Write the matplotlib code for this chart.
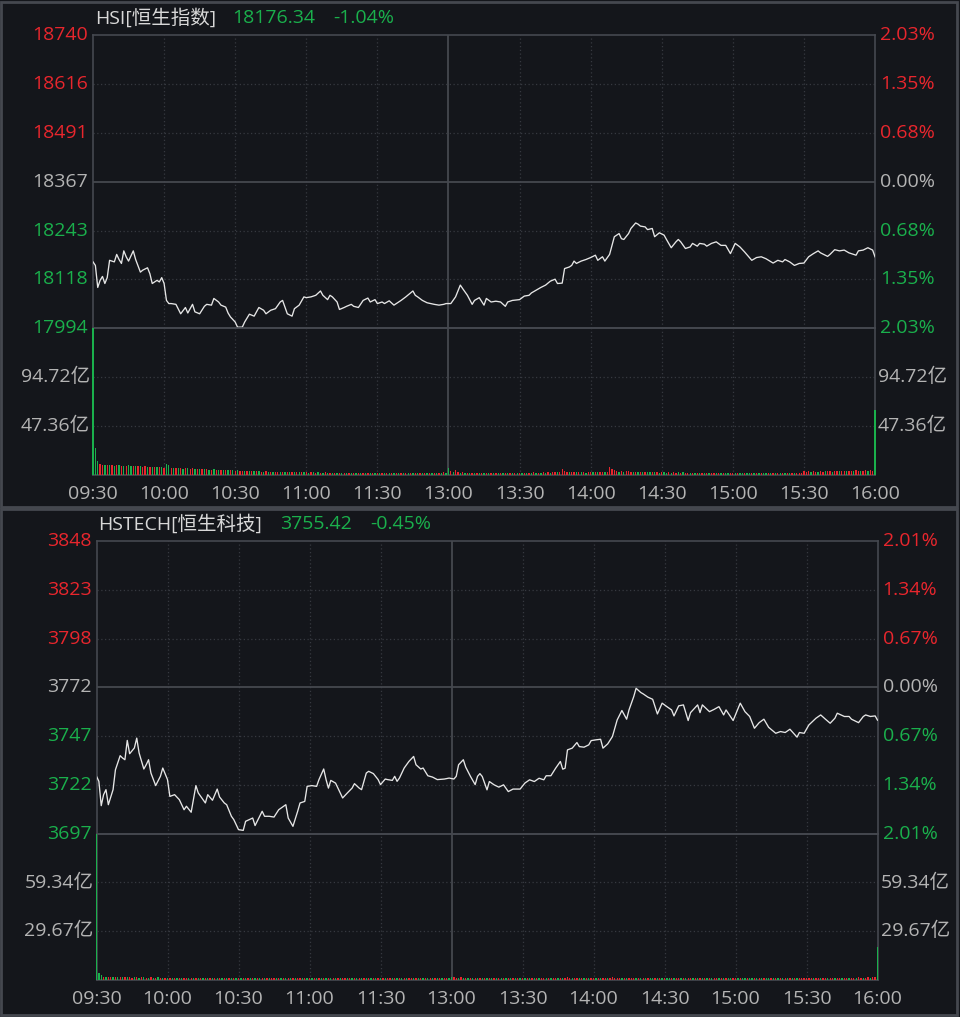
import matplotlib
matplotlib.use("Agg")
import matplotlib.pyplot as plt
import matplotlib.transforms as mtransforms
from matplotlib.patches import Rectangle
import numpy as np

plt.rcParams['font.family'] = ['Open Sans', 'Noto Sans CJK SC', 'DejaVu Sans']

BG = '#14161b'
RED = '#e8262d'
GREEN = '#1ab04c'
GRAY = '#b4b4b4'
TITLE = '#d8d8d8'
GRID = '#363940'
FRAME = '#45484f'
LINE = '#e6e6e6'
W, H = 960, 1017
FS = 14

time_labels = ['09:30', '10:00', '10:30', '11:00', '11:30', '13:00',
               '13:30', '14:00', '14:30', '15:00', '15:30', '16:00']

# ---- HSI (minutes since open, lunch removed) ----
hsi_minutes = [0, 1, 2, 3, 4, 5, 6, 7, 9, 10, 11, 12, 13, 14, 15, 17, 18, 20, 21, 23, 24, 25, 27, 28, 29, 30,
               31, 32, 33, 35, 37, 39, 40, 42, 43, 45, 47, 48, 50, 51, 53, 54, 56, 57, 58, 60, 61, 63, 64, 66,
               68, 70, 72, 73, 75, 77, 79, 80, 81, 82, 84, 85, 87, 89, 90, 92, 94, 96, 97, 99, 100, 101, 103,
               104, 106, 107, 109, 110, 112, 114, 116, 117, 119, 120, 122, 123, 125, 127, 128, 130, 132, 134,
               135, 136, 137, 139, 141, 144, 146, 148, 149, 151, 153, 155, 156, 158, 160, 161, 163, 165, 166,
               168, 170, 172, 174, 175, 177, 180, 182, 184, 185, 187, 189, 191, 193, 195, 196, 198, 199, 201,
               202, 203, 204, 206, 208, 210, 212, 213, 215, 216, 218, 219, 220, 222, 223, 224, 226, 227, 229,
               230, 231, 233, 234, 236, 237, 239, 241, 242, 244, 246, 247, 248, 250, 252, 253, 255, 256, 258,
               259, 261, 263, 265, 267, 269, 271, 273, 275, 278, 280, 282, 284, 287, 289, 291, 292, 294, 296,
               298, 300, 302, 304, 306, 307, 310, 311, 313, 315, 317, 319, 322, 323, 325, 327, 329, 330]
hsi_prices = [18163, 18154, 18098, 18116, 18126, 18108, 18123, 18167, 18163, 18182, 18169, 18159, 18191,
              18176, 18165, 18191, 18169, 18137, 18142, 18148, 18133, 18108, 18116, 18112, 18123, 18108,
              18065, 18057, 18057, 18055, 18031, 18047, 18033, 18055, 18036, 18031, 18050, 18055, 18053,
              18070, 18061, 18053, 18048, 18033, 18023, 18010, 17997, 17997, 18010, 18030, 18025, 18047,
              18040, 18031, 18040, 18044, 18061, 18065, 18048, 18031, 18025, 18044, 18053, 18074, 18072,
              18074, 18078, 18089, 18078, 18067, 18078, 18074, 18061, 18042, 18047, 18050, 18055, 18050,
              18047, 18065, 18071, 18061, 18067, 18057, 18061, 18057, 18064, 18053, 18057, 18065, 18074,
              18084, 18089, 18078, 18074, 18065, 18059, 18055, 18053, 18055, 18057, 18057, 18074, 18104,
              18095, 18078, 18055, 18065, 18072, 18053, 18070, 18061, 18063, 18061, 18050, 18061, 18065,
              18067, 18076, 18078, 18084, 18091, 18098, 18104, 18114, 18119, 18108, 18109, 18146, 18150,
              18154, 18165, 18159, 18165, 18169, 18174, 18180, 18167, 18176, 18165, 18182, 18205, 18227,
              18235, 18222, 18220, 18235, 18248, 18262, 18259, 18254, 18252, 18245, 18248, 18227, 18237,
              18231, 18220, 18199, 18214, 18220, 18214, 18197, 18201, 18210, 18203, 18210, 18208, 18203,
              18210, 18214, 18205, 18205, 18184, 18210, 18201, 18188, 18167, 18174, 18176, 18171, 18160,
              18167, 18163, 18169, 18163, 18154, 18159, 18160, 18176, 18184, 18191, 18186, 18177, 18182,
              18194, 18191, 18193, 18186, 18180, 18191, 18193, 18199, 18193, 18176]
# turnover per minute in 亿, negative = down minute (green)
hsi_volume = [
    -142.1, -26.0, -14.0, 10.2, 9.8, -9.6, 10.1, -9.4, 9.9, -9.2,
    9.5, -9.8, 8.9, -9.1, 8.7, -9.3, -8.8, 9.0, -8.6, 8.4,
    -8.5, 8.1, 8.3, -7.9, 8.2, -7.8, 7.6, -8.0, 7.4, -7.7,
    7.2, -10.6, -9.8, 6.9, -7.1, 6.6, -6.8, 6.5, -6.2, 6.7,
    -6.4, 5.9, 6.3, -6.0, 5.8, -5.6, 6.1, -5.4, 5.7, -5.3,
    5.2, -5.5, 4.9, -5.0, 5.3, -4.8, 4.6, -4.9, 4.4, -4.7,
    4.2, -4.5, 3.9, 4.1, -3.8, 4.3, -3.6, 3.7, -3.5, 3.4,
    -3.6, 3.3, -3.2, 3.5, -3.1, 3.0, -3.3, 2.9, 3.2, -2.8,
    3.1, -3.0, 2.7, -2.9, 3.0, -2.6, 2.8, -2.7, 2.5, -2.9,
    2.6, -2.4, 2.7, -2.5, 2.3, -2.6, 2.4, -2.2, 2.5, -2.3,
    2.1, -2.4, 2.3, -2.0, 2.2, -2.3, 2.0, -2.1, 2.4, -1.9,
    2.2, -2.0, 1.9, -2.3, 2.1, -1.8, 2.0, -2.2, 1.9, -2.1,
    2.0, -1.8, 2.2, -1.9, 1.8, -2.0, 2.1, -1.7, 1.9, -2.0,
    1.8, -2.1, 1.7, -1.9, 2.0, -1.8, 1.7, -2.0, 1.9, -1.6,
    1.8, -1.9, 1.7, -1.8, 2.0, -1.6, 1.9, -1.7, 2.6, -2.2,
    -6.8, 3.4, -2.8, 4.9, 3.1, -2.4, 2.6, -2.2, 2.3, -2.0,
    2.2, -2.1, 1.9, -2.3, 2.0, -1.8, 2.1, -1.9, 2.2, -2.0,
    1.9, -2.0, 2.1, -1.8, 2.0, -1.9, 2.2, -2.1, 1.9, -2.0,
    2.3, -2.1, 2.4, -2.0, 2.2, -2.3, 2.5, -2.1, 2.4, -2.2,
    2.6, -2.3, 2.5, -2.4, 2.7, 3.0, -2.5, 2.8, 5.8, 3.6,
    2.9, -2.6, 2.8, 3.1, -2.7, 2.6, -2.5, 2.9, -2.4, 2.7,
    2.6, -2.5, 2.8, -2.6, 3.0, 2.7, -2.8, 3.2, 7.9, 5.4,
    4.6, 3.8, -3.2, 3.6, -3.0, 3.4, 3.9, 3.3, -3.1, 2.9,
    -2.8, 2.7, -2.9, 2.6, -2.8, -2.5, 2.7, -3.0, 2.6, -2.4,
    2.5, -2.7, -2.4, 2.6, -2.3, 2.5, 2.4, -2.6, 2.3, -2.5,
    2.2, 2.4, -2.3, 2.1, -2.2, 2.3, -2.1, 2.2, -2.0, 2.1,
    -2.2, 2.0, 2.1, -1.9, 2.0, -2.1, 1.9, -2.0, -2.2, 2.1,
    2.0, -1.9, 2.1, -2.0, -1.8, 1.9, -2.1, -1.9, 2.0, -1.8,
    1.9, -2.0, 2.1, -1.9, -2.0, 1.8, -2.1, 1.9, -1.8, 2.0,
    -1.9, 2.1, -2.0, 1.9, -2.1, 2.0, -1.9, 2.2, 2.0, 2.4,
    3.5, 3.1, 3.6, -3.0, 3.4, 3.2, -3.3, 3.7, 3.0, -3.4,
    3.6, 3.8, -3.2, 3.5, 3.9, -3.6, 3.4, 3.8, -3.5, 3.7,
    4.1, -3.6, 4.4, 3.9, -3.8, 4.2, 4.5, -4.0, 4.6, 4.3,
    -63.0]
hsi_range = (17994, 18740)
hsi_price_labels = ['18740', '18616', '18491', '18367', '18243', '18118', '17994']
hsi_pct_labels = ['2.03%', '1.35%', '0.68%', '0.00%', '0.68%', '1.35%', '2.03%']
hsi_vol_max = 142.08
hsi_vol_labels = ['94.72亿', '47.36亿']

# ---- HSTECH ----
tech_minutes = [0, 1, 2, 3, 4, 5, 7, 8, 10, 11, 12, 13, 14, 16, 17, 18, 20, 21, 22, 23, 25, 27, 28, 30, 31,
                33, 35, 37, 38, 40, 42, 43, 46, 47, 49, 51, 52, 54, 55, 57, 58, 60, 62, 63, 66, 67, 70, 71,
                73, 75, 77, 80, 81, 83, 85, 86, 88, 89, 91, 93, 94, 96, 97, 98, 99, 101, 104, 106, 108, 109,
                111, 112, 114, 115, 117, 119, 120, 122, 123, 125, 126, 127, 128, 130, 132, 134, 135, 137,
                138, 140, 142, 144, 147, 149, 151, 152, 153, 155, 156, 158, 160, 161, 162, 163, 165, 166,
                168, 170, 172, 174, 176, 179, 181, 183, 185, 187, 189, 190, 192, 194, 196, 197, 198, 199,
                201, 203, 204, 206, 208, 209, 211, 213, 214, 216, 218, 220, 222, 224, 225, 227, 228, 230,
                231, 233, 235, 237, 239, 241, 243, 244, 246, 248, 250, 251, 254, 255, 256, 259, 261, 263,
                265, 266, 269, 272, 274, 276, 278, 280, 282, 284, 287, 289, 291, 293, 296, 297, 299, 301,
                304, 306, 308, 310, 312, 313, 316, 318, 319, 322, 324, 325, 327, 329, 330]
tech_prices = [3726.3, 3723.7, 3711.1, 3716.8, 3719.4, 3711.6, 3719.4, 3729.7, 3737.0, 3735.8, 3734.9,
               3744.9, 3738.0, 3741.0, 3746.1, 3738.4, 3730.1, 3732.3, 3734.9, 3728.0, 3721.5, 3726.3,
               3730.6, 3724.6, 3715.9, 3716.8, 3714.2, 3709.0, 3710.8, 3707.7, 3721.5, 3717.7, 3712.5,
               3716.8, 3713.9, 3719.7, 3715.6, 3712.5, 3711.6, 3705.6, 3703.9, 3698.7, 3698.3, 3703.0,
               3704.7, 3700.8, 3708.2, 3705.6, 3705.6, 3705.2, 3709.0, 3711.6, 3704.7, 3700.4, 3708.2,
               3712.5, 3713.3, 3721.1, 3721.5, 3721.1, 3724.6, 3730.1, 3724.6, 3720.2, 3724.2, 3722.8,
               3715.1, 3717.7, 3720.2, 3722.5, 3720.2, 3719.4, 3728.0, 3728.9, 3727.7, 3724.6, 3722.0,
               3724.9, 3724.6, 3724.2, 3726.3, 3723.7, 3725.4, 3730.6, 3734.0, 3736.6, 3732.3, 3730.1,
               3730.6, 3726.6, 3725.9, 3724.6, 3724.9, 3725.4, 3724.9, 3726.3, 3732.3, 3734.9, 3731.1,
               3726.3, 3722.0, 3726.3, 3727.7, 3726.2, 3719.3, 3723.6, 3721.9, 3720.7, 3721.9, 3718.4,
               3719.7, 3719.7, 3722.8, 3724.5, 3723.6, 3725.3, 3724.5, 3726.6, 3726.6, 3730.5, 3734.0,
               3730.0, 3730.5, 3740.0, 3740.9, 3743.8, 3741.7, 3741.4, 3742.6, 3744.8, 3745.2, 3745.5,
               3740.9, 3743.1, 3746.9, 3755.5, 3760.4, 3755.9, 3760.7, 3767.6, 3771.9, 3769.7, 3769.0,
               3767.3, 3766.2, 3758.6, 3764.2, 3762.4, 3760.7, 3757.6, 3762.8, 3763.3, 3755.2, 3759.3,
               3763.3, 3759.3, 3763.3, 3759.8, 3761.0, 3762.4, 3758.1, 3760.7, 3755.2, 3764.2, 3759.8,
               3757.3, 3751.2, 3754.1, 3755.9, 3751.7, 3748.6, 3749.5, 3749.0, 3750.7, 3746.6, 3749.0,
               3748.6, 3752.9, 3756.4, 3758.1, 3755.9, 3753.8, 3756.4, 3759.0, 3757.3, 3757.3, 3755.9,
               3754.1, 3757.3, 3758.1, 3757.3, 3757.6, 3755.4]
tech_volume = [
    -89.0, -4.3, -2.9, 1.9, -1.8, 2.0, 1.7, -1.9, 1.8, -1.6,
    1.9, -1.7, 1.6, -1.8, 1.7, 1.5, -1.7, 1.6, -1.5, 1.7,
    -1.6, 1.5, -1.4, 1.6, -1.5, 1.4, -1.6, 1.5, -1.3, 1.4,
    -1.5, 1.3, -1.4, 1.5, -1.3, 1.4, -1.2, 1.3, 1.4, -1.2,
    1.3, -1.4, 1.2, -1.3, 1.4, -1.2, 1.3, -1.1, 1.2, -1.3,
    1.2, -1.1, 1.3, -1.2, 1.1, -1.3, 1.2, -1.1, 1.2, -1.0,
    1.1, -1.2, 1.0, -1.1, 1.2, -1.0, 1.1, -1.2, 1.0, -1.1,
    1.2, -1.0, 1.1, -1.2, 1.0, 1.1, -1.0, 1.2, -1.1, 1.0,
    -1.1, 1.0, -1.2, 1.1, -1.0, 1.1, 1.2, -1.0, 1.1, -1.1,
    1.0, -1.1, 1.2, -1.0, 1.1, -1.0, 1.2, -1.1, 1.0, -1.2,
    1.1, -1.0, 1.2, -1.1, 1.0, 1.1, -1.0, 1.2, -1.1, 1.0,
    -1.1, 1.0, -1.2, 1.1, -1.0, 1.1, -1.0, 1.2, -1.1, 1.0,
    -1.0, 1.1, -1.0, 1.2, 1.0, -1.1, 1.0, -1.2, 1.1, -1.0,
    1.1, -1.0, 1.2, 1.0, -1.1, 1.0, -1.0, 1.1, -1.2, 1.0,
    -1.0, 1.1, -1.0, 1.2, -1.1, 1.0, -1.1, 1.0, 1.2, -1.1,
    -2.0, 1.8, 1.5, -1.4, 1.6, -1.3, 1.4, -1.2, 1.3, -1.1,
    1.2, -1.1, 1.0, -1.2, 1.1, -1.0, 1.2, -1.1, 1.0, -1.2,
    1.1, -1.0, 1.2, -1.1, 1.0, -1.2, 1.1, -1.0, 1.2, -1.0,
    1.1, -1.2, 1.0, -1.1, 1.2, -1.0, 1.1, -1.2, 1.0, 1.1,
    -1.0, 1.2, -1.1, 1.0, 1.3, -1.1, 1.2, -1.0, 1.4, 1.6,
    1.3, -1.1, 1.2, 1.4, -1.2, 1.1, -1.3, 1.2, -1.0, 1.2,
    1.1, -1.2, 1.0, -1.1, 1.2, 1.3, -1.1, 1.2, 1.9, 1.5,
    1.4, 1.3, -1.2, 1.3, -1.1, 1.2, 1.4, 1.3, -1.2, 1.1,
    -1.2, 1.1, -1.0, 1.2, -1.1, -1.0, 1.2, -1.1, 1.0, -1.2,
    1.1, -1.0, -1.2, 1.1, -1.0, 1.2, 1.0, -1.1, 1.2, -1.0,
    1.1, 1.0, -1.2, 1.1, -1.0, 1.2, -1.1, 1.0, -1.2, 1.1,
    -1.0, 1.2, 1.1, -1.0, 1.2, -1.1, 1.0, -1.2, -1.1, 1.0,
    1.2, -1.0, 1.1, -1.2, -1.0, 1.1, -1.2, -1.0, 1.1, -1.0,
    1.2, -1.1, 1.0, -1.2, -1.1, 1.0, -1.2, 1.1, -1.0, 1.2,
    -1.1, 1.0, -1.2, 1.1, -1.0, 1.2, -1.1, 1.0, 1.2, 1.1,
    1.3, 1.2, 1.4, -1.2, 1.3, 1.1, -1.3, 1.4, 1.2, -1.3,
    1.4, 1.3, -1.2, 1.4, 1.3, -1.4, 1.2, 1.5, -1.3, 1.4,
    1.5, -1.3, 1.6, 1.4, -1.5, 1.4, 1.6, -1.5, 1.7, 1.6,
    -19.8]
tech_range = (3696.6, 3848.2)
tech_price_labels = ['3848', '3823', '3798', '3772', '3747', '3722', '3697']
tech_pct_labels = ['2.01%', '1.34%', '0.67%', '0.00%', '0.67%', '1.34%', '2.01%']
tech_vol_max = 89.01
tech_vol_labels = ['59.34亿', '29.67亿']

fig = plt.figure(figsize=(W / 100, H / 100), dpi=100, facecolor=BG)

# outer panel frames
for y0, y1 in [(2, 507), (509, 1015)]:
    fig.add_artist(Rectangle((1 / W, 1 - y1 / H), 956 / W, (y1 - y0) / H, transform=fig.transFigure,
                             fill=False, ec=FRAME, lw=2))


def label_colors():
    return [RED, RED, RED, GRAY, GREEN, GREEN, GREEN]


def panel(box, minutes, prices, volume, prange, price_labels, pct_labels, vol_max, vol_labels,
          name, last, change):
    left, top, right, bottom = box
    split = top + (bottom - top) * 6 / 9
    axp = fig.add_axes([left / W, 1 - split / H, (right - left) / W, (split - top) / H])
    axv = fig.add_axes([left / W, 1 - bottom / H, (right - left) / W, (bottom - split) / H])
    for ax in (axp, axv):
        ax.set_facecolor('none')
        ax.set_xlim(0, 330)
        ax.set_xticks([])
        ax.set_yticks([])
        for s in ax.spines.values():
            s.set_color(FRAME)
            s.set_linewidth(1.2)
        for k in range(1, 11):
            if k == 5:
                ax.axvline(30 * k, color=FRAME, lw=1.3, zorder=1)
            else:
                ax.axvline(30 * k, color=GRID, lw=0.9, ls=(0, (1, 2)), zorder=1)

    lo, hi = prange
    ticks = np.linspace(hi, lo, 7)
    axp.set_ylim(lo, hi)
    for i, t in enumerate(ticks[1:6], start=1):
        if i == 3:
            axp.axhline(t, color=FRAME, lw=1.3, zorder=1)
        else:
            axp.axhline(t, color=GRID, lw=0.9, ls=(0, (1, 2)), zorder=1)
    axp.plot(minutes, prices, color=LINE, lw=0.95, zorder=3)

    trp = mtransforms.blended_transform_factory(fig.transFigure, axp.transData)
    for t, lab, pct, c in zip(ticks, price_labels, pct_labels, label_colors()):
        fig.text((left - 5) / W, t, lab, transform=trp, ha='right', va='center', color=c, fontsize=FS)
        fig.text((right + 5) / W, t, pct, transform=trp, ha='left', va='center', color=c, fontsize=FS)

    axv.set_ylim(0, vol_max)
    mins = np.arange(len(volume))
    vols = np.array(volume)
    cols = [RED if v > 0 else GREEN for v in vols]
    bars = axv.bar(mins, np.abs(vols), width=0.55, color=cols, linewidth=0, zorder=4)
    for b in bars:
        b.set_clip_on(False)
    trv = mtransforms.blended_transform_factory(fig.transFigure, axv.transData)
    for t, lab in zip([vol_max * 2 / 3, vol_max / 3], vol_labels):
        axv.axhline(t, color=GRID, lw=0.9, ls=(0, (1, 2)), zorder=1)
        fig.text((left - 3) / W, t, lab, transform=trv, ha='right', va='center', color=GRAY, fontsize=FS)
        fig.text((right + 3) / W, t, lab, transform=trv, ha='left', va='center', color=GRAY, fontsize=FS)

    for k, lab in enumerate(time_labels):
        x = left + k * (right - left) / 11
        fig.text(x / W, 1 - (bottom + 19) / H, lab, ha='center', va='center', color=GRAY, fontsize=FS)

    ty = 1 - (top - 17) / H
    fig.text((left + 2) / W, ty, name, ha='left', va='center', color=TITLE, fontsize=FS)
    fig.text(last[1] / W, ty, last[0], ha='left', va='center', color=GREEN, fontsize=FS)
    fig.text(change[1] / W, ty, change[0], ha='left', va='center', color=GREEN, fontsize=FS)


panel((93, 35, 875, 475), hsi_minutes, hsi_prices, hsi_volume, hsi_range, hsi_price_labels,
      hsi_pct_labels, hsi_vol_max, hsi_vol_labels, 'HSI[恒生指数]', ('18176.34', 232), ('-1.04%', 333))
panel((96.5, 541, 877.5, 980), tech_minutes, tech_prices, tech_volume, tech_range, tech_price_labels,
      tech_pct_labels, tech_vol_max, tech_vol_labels, 'HSTECH[恒生科技]', ('3755.42', 280), ('-0.45%', 370))

fig.savefig('out.png', dpi=100, facecolor=BG)
